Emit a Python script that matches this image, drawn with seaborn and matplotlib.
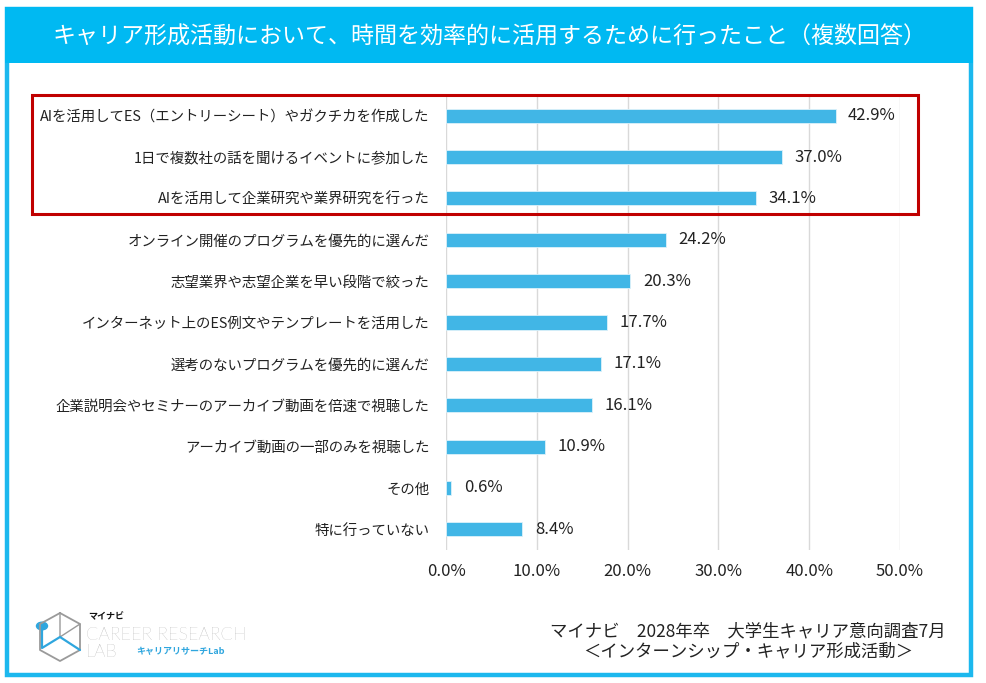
import matplotlib
matplotlib.use("Agg")
import matplotlib.pyplot as plt
from matplotlib.patches import Rectangle, Circle
import pandas as pd
import seaborn as sns

# ----------------------------
# Data
# ----------------------------
items = [
    "AIを活用してES（エントリーシート）やガクチカを作成した",
    "1日で複数社の話を聞けるイベントに参加した",
    "AIを活用して企業研究や業界研究を行った",
    "オンライン開催のプログラムを優先的に選んだ",
    "志望業界や志望企業を早い段階で絞った",
    "インターネット上のES例文やテンプレートを活用した",
    "選考のないプログラムを優先的に選んだ",
    "企業説明会やセミナーのアーカイブ動画を倍速で視聴した",
    "アーカイブ動画の一部のみを視聴した",
    "その他",
    "特に行っていない",
]
shares = [42.9, 37.0, 34.1, 24.2, 20.3, 17.7, 17.1, 16.1, 10.9, 0.6, 8.4]
x_ticks = [0, 10, 20, 30, 40, 50]

title = "キャリア形成活動において、時間を効率的に活用するために行ったこと（複数回答）"
source = "マイナビ　2028年卒　大学生キャリア意向調査7月\n＜インターンシップ・キャリア形成活動＞"

BAR = "#41B6E6"
FRAME = "#1CB8EE"
BAND = "#00B9F2"
RED = "#C00000"
TEXT = "#222222"

df = pd.DataFrame({"item": items, "share": shares})

sns.set_theme(style="white")
plt.rcParams["font.family"] = ["Noto Sans CJK JP", "DejaVu Sans"]

W, H = 986, 683
fig = plt.figure(figsize=(W / 100, H / 100), dpi=100)


def fx(px):
    return px / W


def fy(py):
    return 1 - py / H


# ----------------------------
# Frame and title band
# ----------------------------
fig.patches.append(Rectangle((fx(7), fy(675)), fx(964), (675 - 9) / H,
                             transform=fig.transFigure, fill=False,
                             edgecolor=FRAME, linewidth=3.2, zorder=0))
fig.patches.append(Rectangle((fx(5), fy(63)), fx(968), (63 - 7) / H,
                             transform=fig.transFigure, facecolor=BAND,
                             edgecolor="none", zorder=0))
fig.text(fx(490), fy(37), title, color="white", fontsize=16.6,
         ha="center", va="center")

# ----------------------------
# Bar chart
# ----------------------------
ax = fig.add_axes([fx(446), fy(550), fx(900 - 446), (550 - 95) / H])
sns.barplot(data=df, x="share", y="item", orient="h", color=BAR,
            width=0.34, saturation=1, ax=ax, edgecolor="#DDF1FA", linewidth=0.6)
ax.set_xlim(0, 50)
ax.set_xticks(x_ticks)
ax.set_xticklabels([f"{t:.1f}%" for t in x_ticks], fontsize=12, color=TEXT)
ax.set_xlabel("")
ax.set_ylabel("")
ax.tick_params(axis="y", labelsize=10.4, colors=TEXT, length=0, pad=12)
ax.tick_params(axis="x", length=0, pad=9)
for s in ax.spines.values():
    s.set_visible(False)
ax.grid(axis="x", color="#D9D9D9", linewidth=1)
ax.set_axisbelow(True)
ax.bar_label(ax.containers[0], labels=[f"{v:.1f}%" for v in shares],
             padding=9, fontsize=12, color=TEXT)

# red highlight box around top three
fig.patches.append(Rectangle((fx(32), fy(214)), fx(918 - 32), (214 - 95) / H,
                             transform=fig.transFigure, fill=False,
                             edgecolor=RED, linewidth=2.2, zorder=5))

# ----------------------------
# Source note
# ----------------------------
fig.text(fx(748), fy(641), source, color=TEXT, fontsize=12.5,
         ha="center", va="center", multialignment="center", linespacing=1.15)

# ----------------------------
# Logo (rough)
# ----------------------------
gray = "#9A9A9A"
blue = "#2FA6DE"
hexagon = [(60, 613), (80, 624), (80, 650), (60, 661), (40, 650), (40, 624), (60, 613)]
fig.add_artist(plt.Line2D([fx(p[0]) for p in hexagon], [fy(p[1]) for p in hexagon],
                          transform=fig.transFigure, color=gray, linewidth=1.3))
fig.add_artist(plt.Line2D([fx(60), fx(60), fx(80)], [fy(613), fy(637), fy(624)],
                          transform=fig.transFigure, color=gray, linewidth=1.0))
fig.add_artist(plt.Line2D([fx(42), fx(42), fx(60), fx(80)], [fy(628), fy(648), fy(637), fy(650)],
                          transform=fig.transFigure, color=blue, linewidth=1.6))
fig.add_artist(Circle((fx(42), fy(626)), 5.5 / W, transform=fig.transFigure, color=blue))
fig.text(fx(88), fy(617), "マイナビ", fontsize=6.5, fontweight="bold",
         color="#111111", va="center")
fig.text(fx(86), fy(635), "CAREER RESEARCH", fontsize=13, color=gray,
         va="center", family=["Lato", "DejaVu Sans"], fontweight="light")
fig.text(fx(86), fy(652), "LAB", fontsize=13, color=gray,
         va="center", family=["Lato", "DejaVu Sans"], fontweight="light")
fig.text(fx(136), fy(652), "キャリアリサーチLab", fontsize=6.5,
         fontweight="bold", color=blue, va="center")

fig.savefig("out.png", dpi=100)
